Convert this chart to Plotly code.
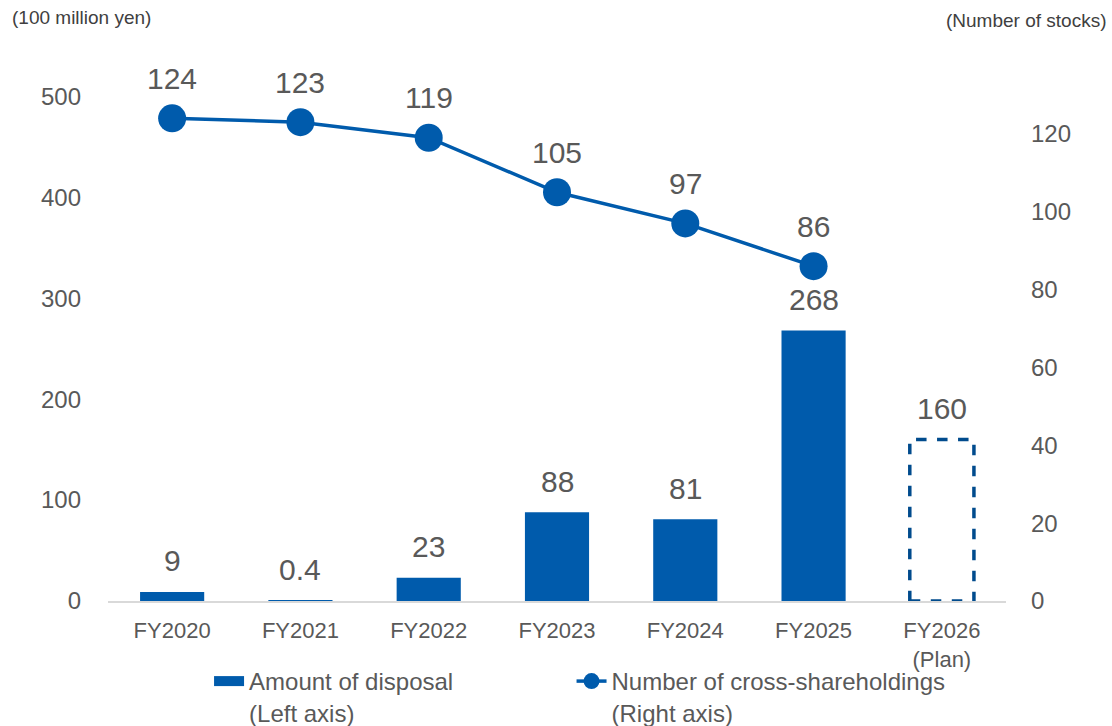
import plotly.graph_objects as go

# Fiscal years and values
categories = ["FY2020", "FY2021", "FY2022", "FY2023", "FY2024", "FY2025", "FY2026<br>(Plan)"]
disposal_amount = [9, 0.4, 23, 88, 81, 268, 160]          # 100 million yen (left axis)
disposal_labels = ["9", "0.4", "23", "88", "81", "268", "160"]
holding_years = categories[:6]
holding_count = [124, 123, 119, 105, 97, 86]               # number of stocks (right axis)

left_ticks = [0, 100, 200, 300, 400, 500]
right_ticks = [0, 20, 40, 60, 80, 100, 120]

BLUE = "#005BAC"
DARK_BLUE = "#004B8D"
GRAY = "#595959"
FONT = "Liberation Sans, Arial, sans-serif"
plan_index = len(categories) - 1
# trailing no-break spaces widen the first legend entry so the second one starts further right
bar_name = "Amount of disposal" + "\u00a0" * 17 + "<br>(Left axis)"
line_name = "Number of cross-shareholdings<br>(Right axis)"

fig = go.Figure()

# Amount of disposal: solid bars, the plan year left unfilled
bar_colors = [BLUE] * (len(categories) - 1) + ["rgba(0,0,0,0)"]
fig.add_trace(go.Bar(
    x=categories,
    y=disposal_amount,
    name="Amount of disposal",
    marker=dict(color=bar_colors, line=dict(width=0)),
    showlegend=False,
    yaxis="y",
))

# Number of holdings on the right axis
fig.add_trace(go.Scatter(
    x=holding_years,
    y=holding_count,
    name="Number of cross-shareholdings",
    mode="lines+markers",
    line=dict(color=BLUE, width=3.5),
    marker=dict(color=BLUE, size=28),
    cliponaxis=False,
    showlegend=False,
    yaxis="y2",
))

# Legend entries (wide block for the bars, line with marker for holdings)
fig.add_trace(go.Scatter(
    x=[None], y=[None], mode="lines", name=bar_name,
    line=dict(color=BLUE, width=12), yaxis="y",
))
fig.add_trace(go.Scatter(
    x=[None], y=[None], mode="lines+markers", name=line_name,
    line=dict(color=BLUE, width=3.5, dash="solid"),
    marker=dict(color=BLUE, size=16), yaxis="y2",
))

# Planned amount drawn as a dashed outline bar
bar_half = 0.25
fig.add_shape(
    type="rect", xref="x", yref="y",
    x0=plan_index - bar_half, x1=plan_index + bar_half,
    y0=0, y1=disposal_amount[plan_index],
    line=dict(color=DARK_BLUE, width=3.5, dash="dash"),
    fillcolor="rgba(0,0,0,0)",
)

label_font = dict(size=30, color=GRAY, family=FONT)
annotations = []
for cat, val, lab in zip(categories, disposal_amount, disposal_labels):
    annotations.append(dict(
        x=cat, y=val, xref="x", yref="y", text=lab, showarrow=False,
        yanchor="middle", yshift=31, font=label_font,
    ))
for cat, val in zip(holding_years, holding_count):
    annotations.append(dict(
        x=cat, y=val, xref="x", yref="y2", text=str(val), showarrow=False,
        yanchor="middle", yshift=40, font=label_font,
    ))
annotations += [
    dict(text="(100 million yen)", xref="paper", yref="paper", x=-0.109, y=1.07,
         xanchor="left", yanchor="middle", showarrow=False,
         font=dict(size=19, color="#404040")),
    dict(text="(Number of stocks)", xref="paper", yref="paper", x=1.114, y=1.065,
         xanchor="right", yanchor="middle", showarrow=False,
         font=dict(size=19, color="#404040")),
]

fig.update_layout(
    width=1112, height=726,
    margin=dict(l=108, r=106, t=56, b=125, autoexpand=False),
    paper_bgcolor="white", plot_bgcolor="white",
    font=dict(family=FONT, color=GRAY),
    bargap=0.5,
    showlegend=True,
    legend=dict(
        orientation="h", xref="container", yref="container",
        x=0.188, xanchor="left", y=0.0923, yanchor="top",
        font=dict(size=24, color=GRAY, family=FONT),
        valign="top", bgcolor="rgba(0,0,0,0)",
        traceorder="normal",
    ),
    xaxis=dict(
        type="category",
        tickfont=dict(size=22, color=GRAY),
        showline=True, linecolor="#D9D9D9", linewidth=2,
        showgrid=False, ticks="", zeroline=False,
        ticklabelstandoff=9, automargin=False,
    ),
    yaxis=dict(
        range=[0, 540], tickvals=left_ticks,
        tickfont=dict(size=24, color=GRAY),
        showgrid=False, zeroline=False, showline=False, ticks="",
        ticklabelstandoff=26, automargin=False,
    ),
    yaxis2=dict(
        range=[0, 140], tickvals=right_ticks, overlaying="y", side="right",
        tickfont=dict(size=24, color=GRAY),
        showgrid=False, zeroline=False, showline=False, ticks="",
        ticklabelstandoff=24, automargin=False,
    ),
    annotations=annotations,
)

fig.write_html("out.html")
